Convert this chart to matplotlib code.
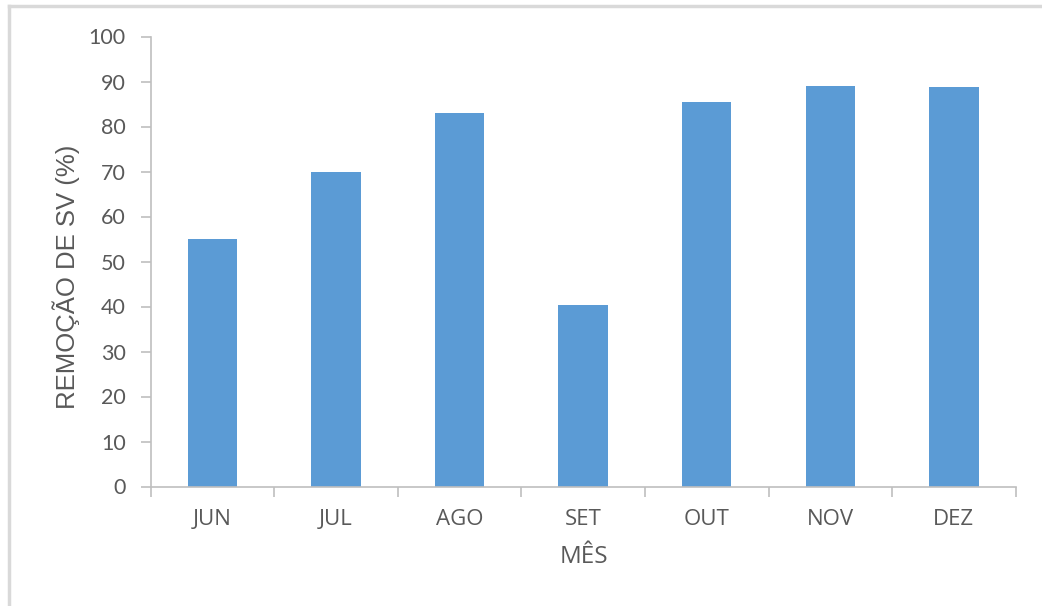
import matplotlib
matplotlib.use("Agg")
import matplotlib.pyplot as plt
from matplotlib.lines import Line2D

months = ["JUN", "JUL", "AGO", "SET", "OUT", "NOV", "DEZ"]
removal = [55.0, 70.0, 83.1, 40.4, 85.5, 89.1, 88.8]
yticks = [0, 10, 20, 30, 40, 50, 60, 70, 80, 90, 100]

W, H = 1042, 606
fig = plt.figure(figsize=(W / 100, H / 100), dpi=100)
fig.patch.set_facecolor("white")

# light frame around the chart area (top and left edges)
fig.add_artist(Line2D([9 / W, 1.0], [1 - 6 / H, 1 - 6 / H], transform=fig.transFigure,
                      color="#d9d9d9", lw=2.5))
fig.add_artist(Line2D([9 / W, 9 / W], [0.0, 1 - 6 / H], transform=fig.transFigure,
                      color="#d9d9d9", lw=2.5))

left, right = 150.7 / W, 1015.7 / W
bottom, top = 1 - 486.5 / H, 1 - 36.5 / H
ax = fig.add_axes([left, bottom, right - left, top - bottom])

x = range(len(months))
ax.bar(x, removal, width=0.4, color="#5b9bd5", zorder=2)

ax.set_xlim(-0.5, len(months) - 0.5)
ax.set_ylim(0, 100)
ax.set_yticks(yticks)
ax.set_xticks(list(x))
ax.set_xticklabels(months)
ax.set_xticks([i - 0.5 for i in range(len(months) + 1)], minor=True)

axis_col = "#bfbfbf"
for side in ("top", "right"):
    ax.spines[side].set_visible(False)
for side in ("left", "bottom"):
    ax.spines[side].set_color(axis_col)
    ax.spines[side].set_linewidth(1.2)

ax.tick_params(axis="y", direction="out", length=7, width=1.2, color=axis_col,
               labelsize=15.5, labelcolor="#595959", pad=11)
ax.tick_params(axis="x", which="major", length=0, labelsize=16,
               labelcolor="#595959", pad=16)
ax.tick_params(axis="x", which="minor", direction="out", length=7, width=1.2,
               color=axis_col)
for lab in ax.get_yticklabels():
    lab.set_fontfamily("Lato")
for lab in ax.get_xticklabels():
    lab.set_fontfamily("Open Sans")

fig.text(66 / W, 1 - 276.5 / H, "REMOÇÃO DE SV (%)", rotation=90, ha="center",
         va="center", fontsize=18.5, color="#595959", family="Liberation Sans")
fig.text(584 / W, 1 - 557 / H, "MÊS", ha="center", va="center", fontsize=17.5,
         color="#595959", family="Open Sans")

fig.savefig("out.png", dpi=100, facecolor="white")
